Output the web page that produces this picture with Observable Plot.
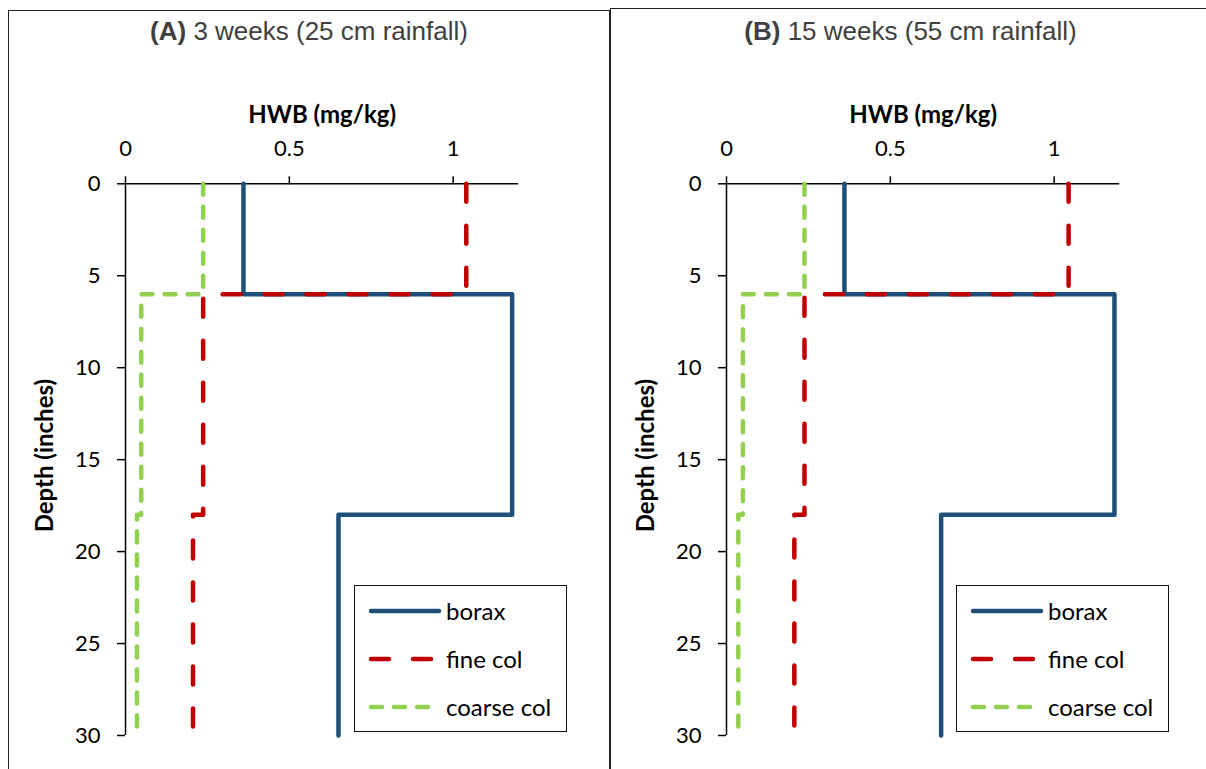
<!DOCTYPE html>
<html><head><meta charset="utf-8">
<script src="https://cdn.jsdelivr.net/npm/d3@7"></script>
<script src="https://cdn.jsdelivr.net/npm/@observablehq/plot@0.6"></script>
<style>
body{margin:0;background:#fff;width:1206px;height:769px;overflow:hidden;position:relative;font-family:Lato,sans-serif}
.panel{position:absolute;border:1.5px solid #222;box-sizing:border-box}
.title{position:absolute;font-family:"Liberation Sans",Arial,sans-serif;font-size:26px;line-height:30px;color:#404040;white-space:nowrap;transform:translateX(-50%)}
.plot{position:absolute;top:60px}
.legend{position:absolute;border:1.5px solid #111;background:#fff;box-sizing:border-box}
.row{position:absolute;left:0;height:30px;line-height:30px;font-size:24px;color:#000;white-space:nowrap}
.row svg{position:absolute;left:13px;top:0}
.row span{position:absolute;left:91px;top:0}
</style></head>
<body>
<script>
// ---- data ----
const layerTops = [0, 6, 18];
const layerBottoms = [6, 18, 30];
const seriesNames = ["borax", "fine col", "coarse col"];
const seriesColors = ["#1F4E79", "#C00000", "#92D050"];
const seriesDash = ["none", "18,24", "11,12"];
const panelLabels = ["(A)", "(B)"];
const panelSubtitles = [" 3 weeks (25 cm rainfall)", " 15 weeks (55 cm rainfall)"];
const boraxA = [0.36, 1.18, 0.65];
const fineA = [1.04, 0.237, 0.206];
const coarseA = [0.237, 0.048, 0.035];
const boraxB = [0.36, 1.184, 0.655];
const fineB = [1.044, 0.238, 0.207];
const coarseB = [0.238, 0.05, 0.036];
const xTicks = [0, 0.5, 1];
const yTicks = [0, 5, 10, 15, 20, 25, 30];
const xLabel = "HWB (mg/kg)";
const yLabel = "Depth (inches)";

function profile(values, name) {
  const pts = [];
  values.forEach((v, i) => {
    pts.push({x: v, y: layerTops[i], s: name});
    pts.push({x: v, y: layerBottoms[i], s: name});
  });
  return pts;
}

function makePlot(seriesValues) {
  const lineMarks = seriesValues.map((vals, i) =>
    Plot.line(profile(vals, seriesNames[i]), {
      x: "x", y: "y", stroke: seriesColors[i], strokeWidth: 4.5,
      strokeDasharray: seriesDash[i] === "none" ? undefined : seriesDash[i],
      strokeLinecap: "round", strokeLinejoin: "round"
    })
  );
  return Plot.plot({
    width: 600, height: 709,
    marginLeft: 125, marginRight: 81.8, marginTop: 123.3, marginBottom: 34,
    style: {fontFamily: "Lato, sans-serif", fontSize: "22px", color: "#000", background: "transparent", overflow: "visible"},
    x: {domain: [0, 1.2]},
    y: {domain: [0, 30], reverse: true},
    marks: [
      Plot.ruleY([0], {stroke: "#000", strokeWidth: 1.5}),
      Plot.ruleX([0], {stroke: "#000", strokeWidth: 1.5}),
      Plot.axisX({anchor: "top", ticks: xTicks, tickSize: 8, tickPadding: 20, tickFormat: d => String(d), label: null, strokeWidth: 1.5, fontSize: 22}),
      Plot.axisY({anchor: "left", ticks: yTicks, tickSize: 8, tickPadding: 17, tickFormat: d => String(d), label: null, strokeWidth: 1.5, fontSize: 22}),
      ...lineMarks,
      Plot.text([xLabel], {frameAnchor: "top", dy: -78, fontWeight: "bold", fontSize: 24}),
      Plot.text([yLabel], {frameAnchor: "left", textAnchor: "middle", dx: -80, dy: -4, rotate: -90, fontWeight: "bold", fontSize: 24})
    ]
  });
}

function makeLegend(left) {
  const box = document.createElement("div");
  box.className = "legend";
  Object.assign(box.style, {left: left + "px", top: "585px", width: "213px", height: "147px"});
  const rowCenters = [26.7, 74, 122.7];
  seriesNames.forEach((name, i) => {
    const row = document.createElement("div");
    row.className = "row";
    row.style.top = (rowCenters[i] - 15 - 1.5) + "px";
    row.style.width = "200px";
    const svg = d3.create("svg").attr("width", 74).attr("height", 30);
    svg.append("line").attr("x1", 3).attr("x2", 71).attr("y1", 15).attr("y2", 15)
      .attr("stroke", seriesColors[i]).attr("stroke-width", 4.5).attr("stroke-linecap", "round")
      .attr("stroke-dasharray", seriesDash[i] === "none" ? null : seriesDash[i]);
    row.appendChild(svg.node());
    const span = document.createElement("span");
    span.textContent = name;
    row.appendChild(span);
    box.appendChild(row);
  });
  return box;
}

const panels = [
  {left: 8, top: 10, width: 602, plotLeft: 0, titleCenter: 309, legendLeft: 354, data: [boraxA, fineA, coarseA]},
  {left: 610, top: 8, width: 700, plotLeft: 601, titleCenter: 910.5, legendLeft: 956, data: [boraxB, fineB, coarseB]}
];

panels.forEach((p, k) => {
  const border = document.createElement("div");
  border.className = "panel";
  Object.assign(border.style, {left: p.left + "px", top: p.top + "px", width: p.width + "px", height: "800px"});
  document.body.appendChild(border);

  const title = document.createElement("div");
  title.className = "title";
  title.style.left = p.titleCenter + "px";
  title.style.top = "16px";
  const b = document.createElement("b");
  b.textContent = panelLabels[k];
  title.appendChild(b);
  title.appendChild(document.createTextNode(panelSubtitles[k]));
  document.body.appendChild(title);

  const wrap = document.createElement("div");
  wrap.className = "plot";
  wrap.style.left = p.plotLeft + "px";
  wrap.appendChild(makePlot(p.data));
  document.body.appendChild(wrap);

  document.body.appendChild(makeLegend(p.legendLeft));
});
</script>
</body></html>
